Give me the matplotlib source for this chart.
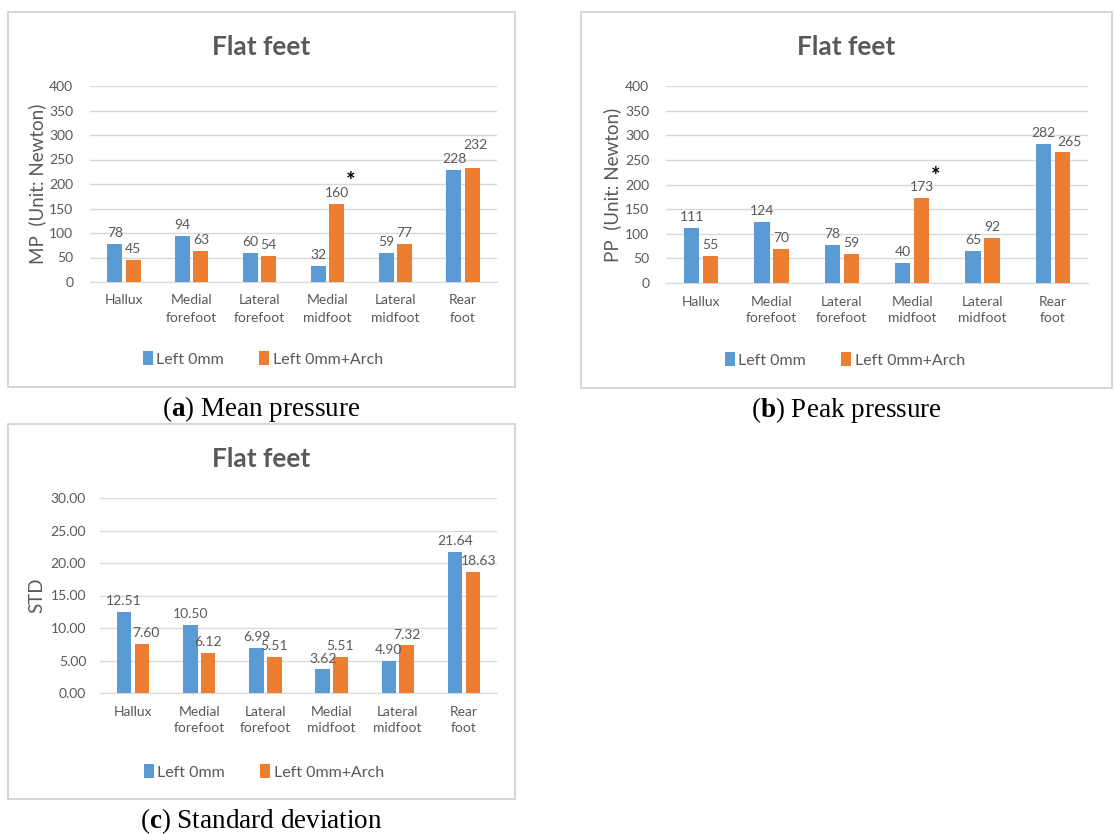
import matplotlib.pyplot as plt
from matplotlib.patches import Rectangle

W, H = 1114, 834

categories = ["Hallux", "Medial\nforefoot", "Lateral\nforefoot", "Medial\nmidfoot", "Lateral\nmidfoot", "Rear\nfoot"]
series_names = ["Left 0mm", "Left 0mm+Arch"]

mp_left = [78, 94, 60, 32, 59, 228]
mp_arch = [45, 63, 54, 160, 77, 232]

pp_left = [111, 124, 78, 40, 65, 282]
pp_arch = [55, 70, 59, 173, 92, 265]

std_left = [12.51, 10.50, 6.99, 3.62, 4.90, 21.64]
std_arch = [7.60, 6.12, 5.51, 5.51, 7.32, 18.63]

BLUE = "#5B9BD5"
ORANGE = "#ED7D31"
GREY = "#595959"
GRID = "#D9D9D9"

plt.rcParams["font.family"] = ["Lato", "DejaVu Sans"]
plt.rcParams["mathtext.fontset"] = "custom"
plt.rcParams["mathtext.rm"] = "Liberation Serif"
plt.rcParams["mathtext.bf"] = "Liberation Serif:bold"


def px(x0, y0, x1, y1):
    return [x0 / W, 1 - y1 / H, (x1 - x0) / W, (y1 - y0) / H]


def panel(fig, box, axbox, left, arch, ymax, ystep, fmt, ylabel, ylabel_x, legend_xy, caption,
          star=None, ypad=12, nudge={}):
    x0, y0, x1, y1 = box
    fig.patches.append(Rectangle((x0 / W, 1 - y1 / H), (x1 - x0) / W, (y1 - y0) / H,
                                 transform=fig.transFigure, fill=False, edgecolor="#D0D0D0", linewidth=1.2))
    fig.text((x0 + x1) / 2 / W, 1 - (y0 + 35) / H, "Flat feet", ha="center", va="center",
             fontsize=19, fontweight="bold", color=GREY)

    ax = fig.add_axes(px(*axbox))
    pos = list(range(len(categories)))
    w = 0.22
    b1 = ax.bar([p - w / 2 - 0.025 for p in pos], left, width=w, color=BLUE, label=series_names[0], zorder=3)
    b2 = ax.bar([p + w / 2 + 0.025 for p in pos], arch, width=w, color=ORANGE, label=series_names[1], zorder=3)
    for k, (bars, vals) in enumerate(((b1, left), (b2, arch))):
        for i, (b, v) in enumerate(zip(bars, vals)):
            dx, dy = nudge.get((k, i), (0, 0))
            ax.annotate(fmt.format(v), (b.get_x() + b.get_width() / 2, v), xytext=(dx, 3.5 + dy),
                        textcoords="offset points", ha="center", va="bottom", fontsize=10, color=GREY)
    if star is not None:
        b = b2[star]
        ax.annotate("*", (b.get_x() + b.get_width() / 2, arch[star]), xytext=(10, 8),
                    textcoords="offset points", ha="center", va="bottom", fontsize=16, fontweight="bold", color="black")

    ax.set_xlim(-0.5, len(categories) - 0.5)
    ax.set_ylim(0, ymax)
    ticks = [i * ystep for i in range(int(round(ymax / ystep)) + 1)]
    ax.set_yticks(ticks)
    ax.set_yticklabels([fmt.format(t) for t in ticks])
    ax.set_xticks(pos)
    ax.set_xticklabels(categories, linespacing=1.5)
    ax.tick_params(axis="both", length=0, colors=GREY, labelsize=10)
    ax.tick_params(axis="y", pad=ypad)
    ax.tick_params(axis="x", pad=9)
    ax.grid(axis="y", color=GRID, linewidth=1, zorder=0)
    for s in ("left", "right", "top"):
        ax.spines[s].set_visible(False)
    ax.spines["bottom"].set_color(GRID)

    cy = (axbox[1] + axbox[3]) / 2
    fig.text(ylabel_x / W, 1 - cy / H, ylabel, rotation=90, ha="center", va="center", fontsize=13.5, color=GREY)

    ax.legend(loc="center", bbox_to_anchor=(legend_xy[0] / W, 1 - legend_xy[1] / H),
              bbox_transform=fig.transFigure, ncol=2, frameon=False, fontsize=11.5,
              handlelength=0.6, handleheight=0.9, handletextpad=0.25, columnspacing=2.2,
              labelcolor=GREY)

    fig.text((x0 + x1) / 2 / W, 1 - (y1 + 22) / H, caption, ha="center", va="center",
             fontsize=19.5, family="Liberation Serif", color="black")
    return ax


fig = plt.figure(figsize=(W / 100, H / 100), dpi=100)

panel(fig, (8, 12, 515, 387), (90, 86, 497, 282), mp_left, mp_arch, 400, 50, "{:.0f}",
      "MP  (Unit: Newton)", 37, (263, 359), r"($\mathbf{a}$) Mean pressure", star=3,
      nudge={(1, 5): (2, 9)})
panel(fig, (581, 12, 1112, 388), (666, 86, 1088, 283), pp_left, pp_arch, 400, 50, "{:.0f}",
      "PP  (Unit: Newton)", 612, (845, 360), r"($\mathbf{b}$) Peak pressure", star=3,
      nudge={(1, 5): (5, 0)})
panel(fig, (8, 424, 515, 799), (100, 498, 497, 693), std_left, std_arch, 30, 5, "{:.2f}",
      "STD", 37, (264, 772), r"($\mathbf{c}$) Standard deviation", ypad=10,
      nudge={(1, 5): (4, 0), (1, 0): (3, 0)})

fig.savefig("out.png", dpi=100)
